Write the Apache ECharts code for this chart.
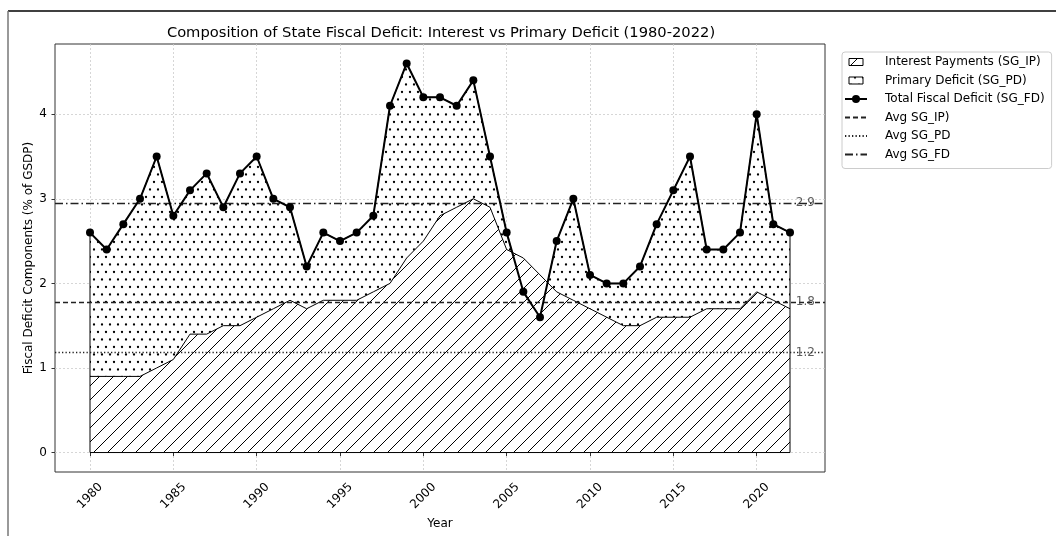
<!DOCTYPE html>
<html><head><meta charset="utf-8">
<script src="https://cdn.jsdelivr.net/npm/echarts@6.0.0/dist/echarts.min.js"></script>
<style>html,body{margin:0;padding:0;background:#fff}#c{width:1056px;height:536px}</style>
</head><body><div id="c"></div>
<script>
// ---- data ----
const years = [1980,1981,1982,1983,1984,1985,1986,1987,1988,1989,
               1990,1991,1992,1993,1994,1995,1996,1997,1998,1999,
               2000,2001,2002,2003,2004,2005,2006,2007,2008,2009,
               2010,2011,2012,2013,2014,2015,2016,2017,2018,2019,
               2020,2021,2022];
const fdValues = [2.6,2.4,2.7,3.0,3.5,2.8,3.1,3.3,2.9,3.3,
                  3.5,3.0,2.9,2.2,2.6,2.5,2.6,2.8,4.1,4.6,
                  4.2,4.2,4.1,4.4,3.5,2.6,1.9,1.6,2.5,3.0,
                  2.1,2.0,2.0,2.2,2.7,3.1,3.5,2.4,2.4,2.6,
                  4.0,2.7,2.6];
const ipValues = [0.9,0.9,0.9,0.9,1.0,1.1,1.4,1.4,1.5,1.5,
                  1.6,1.7,1.8,1.7,1.8,1.8,1.8,1.9,2.0,2.3,
                  2.5,2.8,2.9,3.0,2.9,2.4,2.3,2.1,1.9,1.8,
                  1.7,1.6,1.5,1.5,1.6,1.6,1.6,1.7,1.7,1.7,
                  1.9,1.8,1.7];
const avgNames = ['Avg SG_IP)', 'Avg SG_PD', 'Avg SG_FD'];
const avgValues = [1.78, 1.18, 2.95];
const avgLabels = ['1.8', '1.2', '2.9'];
const xTicks = [1980,1985,1990,1995,2000,2005,2010,2015,2020];
const yTicks = [0,1,2,3,4];
const seriesNames = ['Interest Payments (SG_IP)', 'Primary Deficit (SG_PD)', 'Total Fiscal Deficit (SG_FD)'];

// ---- fill patterns ----
function hatchCanvas() {
  const s = 14, c = document.createElement('canvas');
  c.width = s; c.height = s;
  const g = c.getContext('2d');
  g.fillStyle = '#fff'; g.fillRect(0, 0, s, s);
  g.strokeStyle = '#000'; g.lineWidth = 1;
  g.beginPath();
  g.moveTo(-2, s + 2); g.lineTo(s + 2, -2);
  g.moveTo(-2, 2); g.lineTo(2, -2);
  g.moveTo(s - 2, s + 2); g.lineTo(s + 2, s - 2);
  g.stroke();
  return c;
}
function dotCanvas() {
  const w = 16, h = 15, c = document.createElement('canvas');
  c.width = w; c.height = h;
  const g = c.getContext('2d');
  g.fillStyle = '#fff'; g.fillRect(0, 0, w, h);
  g.fillStyle = '#000';
  const pts = [[2, 2], [10, 2], [6, 9.5], [14, 9.5]];
  for (const p of pts) { g.beginPath(); g.arc(p[0], p[1], 1.15, 0, Math.PI * 2); g.fill(); }
  return c;
}
const hatch = { image: hatchCanvas(), repeat: 'repeat' };
const dots = { image: dotCanvas(), repeat: 'repeat' };

const pairs = arr => years.map((y, i) => [y, arr[i]]);
const last = years.length - 1;
const font = 'DejaVu Sans';
const avgStyles = [
  { type: [5, 3], width: 1.3, color: '#222' },
  { type: [1.3, 2.2], width: 1.3, color: '#222' },
  { type: [8, 3, 1.5, 3], width: 1.3, color: '#222' }
];

const series = [
  // primary deficit band: dotted fill up to the total, hatched interest area drawn over its lower part
  { name: seriesNames[1], type: 'line', data: pairs(fdValues),
    symbol: 'none', lineStyle: { color: '#000', width: 1 }, itemStyle: { color: '#000' },
    areaStyle: { color: dots, opacity: 1 }, z: 2, silent: true },
  { name: seriesNames[0], type: 'line', data: pairs(ipValues),
    symbol: 'none', lineStyle: { color: '#000', width: 1 }, itemStyle: { color: '#000' },
    areaStyle: { color: hatch, opacity: 1 }, z: 3, silent: true },
  { name: 'outline', type: 'line', symbol: 'none', silent: true, z: 4,
    data: [[years[0], fdValues[0]], [years[0], 0], [years[last], 0], [years[last], fdValues[last]]],
    lineStyle: { color: '#000', width: 1 } },
  { name: seriesNames[2], type: 'line', data: pairs(fdValues), symbol: 'circle', symbolSize: 8,
    lineStyle: { color: '#000', width: 2 }, itemStyle: { color: '#000' }, z: 6, silent: true }
];
avgValues.forEach((v, i) => {
  series.push({ name: avgNames[i], type: 'line', data: [], symbol: 'none',
    lineStyle: avgStyles[i], itemStyle: { color: '#222' },
    markLine: { silent: true, symbol: 'none', label: { show: false }, lineStyle: avgStyles[i],
      data: [{ yAxis: v }], z: 5 }, z: 5 });
});
series.push({ name: 'avgLabels', type: 'scatter', symbolSize: 0, silent: true, z: 7,
  data: avgValues.map((v, i) => ({ value: [years[last] + 0.35, v], label: { formatter: avgLabels[i] } })),
  label: { show: true, position: 'right', distance: 0, color: '#333', fontSize: 12, fontFamily: font } });

const boxIcon = 'path://M0,0M22,10M4,1.5h14v7h-14z';
const option = {
  animation: false,
  backgroundColor: '#fff',
  textStyle: { fontFamily: font },
  title: { text: 'Composition of State Fiscal Deficit: Interest vs Primary Deficit (1980-2022)',
    left: 436, top: 21, textAlign: 'center',
    textStyle: { fontFamily: font, fontSize: 14.7, fontWeight: 'normal', color: '#000' } },
  grid: { left: 55, right: 231, top: 44, bottom: 64, show: true, borderColor: '#333', borderWidth: 1,
    outerBoundsMode: 'none' },
  legend: {
    orient: 'vertical', left: 842, top: 52, padding: [4, 7, 8, 2], itemGap: 6.5,
    itemWidth: 22, itemHeight: 10, borderColor: '#ccc', borderWidth: 1, borderRadius: 3,
    textStyle: { fontFamily: font, fontSize: 12, color: '#000', padding: [0, 0, 0, 13] },
    data: [
      { name: seriesNames[0], icon: boxIcon, itemStyle: { color: hatch, borderColor: '#000', borderWidth: 1 } },
      { name: seriesNames[1], icon: boxIcon, itemStyle: { color: dots, borderColor: '#000', borderWidth: 1 } },
      { name: seriesNames[2] },
      { name: avgNames[0], itemStyle: { opacity: 0 } },
      { name: avgNames[1], itemStyle: { opacity: 0 } },
      { name: avgNames[2], itemStyle: { opacity: 0 } }
    ]
  },
  xAxis: {
    type: 'value', min: 1977.9, max: 2024.1,
    name: 'Year', nameLocation: 'middle', nameGap: 42,
    nameTextStyle: { fontFamily: font, fontSize: 12, color: '#000' },
    axisLine: { show: false },
    axisTick: { show: true, length: 3.5, lineStyle: { color: '#333' }, customValues: xTicks },
    axisLabel: { customValues: xTicks, rotate: 45, align: 'center', verticalAlign: 'middle', margin: 24,
      fontFamily: font, fontSize: 12, color: '#000', formatter: v => String(v) },
    splitLine: { show: true, lineStyle: { color: '#ccc', width: 0.8, type: [2, 2] } }
  },
  yAxis: {
    type: 'value', min: -0.23, max: 4.83,
    name: 'Fiscal Deficit Components (% of GSDP)', nameLocation: 'middle', nameGap: 20,
    nameMoveOverlap: false,
    nameTextStyle: { fontFamily: font, fontSize: 12, color: '#000' },
    axisLine: { show: false },
    axisTick: { show: true, length: 3.5, lineStyle: { color: '#333' }, customValues: yTicks },
    axisLabel: { customValues: yTicks, margin: 8, fontFamily: font, fontSize: 12, color: '#000',
      formatter: v => String(v) },
    splitLine: { show: true, lineStyle: { color: '#ccc', width: 0.8, type: [2, 2] } }
  },
  graphic: [
    { type: 'line', shape: { x1: 8, y1: 11, x2: 1056, y2: 11 }, style: { stroke: '#000', lineWidth: 1.5 }, z: 100 },
    { type: 'line', shape: { x1: 8, y1: 11, x2: 8, y2: 536 }, style: { stroke: '#777', lineWidth: 1.5 }, z: 100 }
  ],
  series: series
};
const chart = echarts.init(document.getElementById('c'), null, { renderer: 'canvas' });
chart.setOption(option);
</script></body></html>
